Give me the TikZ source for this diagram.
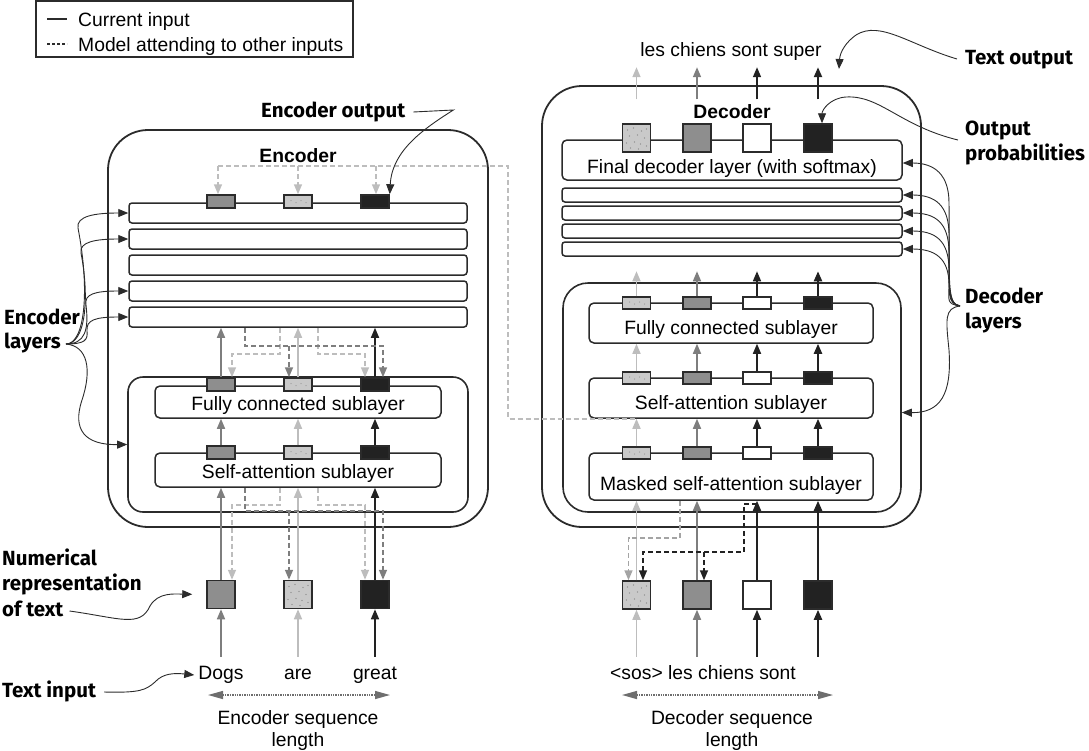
\documentclass[tikz,border=0pt]{standalone}
\usepackage{fontspec}
\setmainfont{Liberation Sans}
\newfontfamily\lblfont{Fira Sans}
\usetikzlibrary{arrows.meta,calc}

\definecolor{cline}{HTML}{2B2B2B}
\definecolor{cdark}{HTML}{8E8E8E}
\definecolor{cdarkln}{HTML}{7E7E7E}
\definecolor{clight}{HTML}{C9C9C9}
\definecolor{clightln}{HTML}{BDBDBD}
\definecolor{cmid}{HTML}{A4A4A4}
\definecolor{cblack}{HTML}{222222}
\definecolor{cdot}{HTML}{808080}
\definecolor{cseq}{HTML}{6E6E6E}

\tikzset{
  tip/.style={-{Triangle[length=10pt,width=8pt]}},
  dkar/.style={draw=cdarkln, line width=1.6pt, tip},
  ltar/.style={draw=clightln, line width=1.6pt, tip},
  mdar/.style={draw=cmid, line width=1.6pt, tip},
  bkar/.style={draw=cblack, line width=1.6pt, tip},
  bkthick/.style={draw=cblack, line width=2.2pt, tip},
  dsh/.style={dash pattern=on 5pt off 3pt},
  ltline/.style={draw=clightln, line width=1.6pt},
  cell/.style={draw=cline, line width=1.5pt, inner sep=0pt},
  bigsq/.style={cell, minimum width=28pt, minimum height=28pt},
  smrect/.style={cell, minimum width=28pt, minimum height=13pt},
  fdark/.style={fill=cdark},
  fblack/.style={fill=cblack},
  fwhite/.style={fill=white},
  flightbig/.style={fill=clight, path picture={
      \foreach \dx/\dy in {-9/8,-3/10,5/7,10/9,-7/2,1/3,8/0,-10/-5,-2/-4,4/-6,10/-8,-6/-10,2/-11}
        {\fill[cdot] ($(path picture bounding box.center)+(\dx pt,\dy pt)$) circle[radius=0.55pt];}}},
  flightsm/.style={fill=clight, path picture={
      \foreach \dx/\dy in {-7/1,-2/-1,3/1,8/-1}
        {\fill[cdot] ($(path picture bounding box.center)+(\dx pt,\dy pt)$) circle[radius=0.5pt];}}},
  layerbox/.style={cell, rounded corners=3pt},
  subbox/.style={cell, rounded corners=5pt},
  outerbox/.style={draw=cline, line width=1.8pt, inner sep=0pt, rounded corners=40pt},
  innerbox/.style={draw=cline, line width=1.6pt, inner sep=0pt},
  txt/.style={font=\fontsize{19.3}{23}\selectfont, inner sep=0pt},
  hdr/.style={font=\fontsize{19.3}{23}\selectfont\bfseries, inner sep=0pt},
  lbl/.style={font=\lblfont\bfseries\fontsize{20.5}{25}\selectfont, inner sep=0pt, anchor=base west},
  ann/.style={draw=cline, line width=0.9pt, -{Triangle[length=10pt,width=8pt]}},
  seqarrow/.style={draw=cseq, line width=1.4pt, densely dotted,
      {Triangle[length=15pt,width=8pt]}-{Triangle[length=15pt,width=8pt]}},
}

\begin{document}
\begin{tikzpicture}[x=1pt,y=-1pt]
\useasboundingbox (0,0) rectangle (1089,750);

% ---------------- legend ----------------
\node[cell, line width=1.2pt, minimum width=317pt, minimum height=56pt] (legend) at (194.5,29) {};
\coordinate (lg1a) at (47,19); \coordinate (lg1b) at (67,19);
\coordinate (lg2a) at (47,44); \coordinate (lg2b) at (67,44);
\draw[cline, line width=1.2pt] (lg1a) -- (lg1b);
\draw[cline, line width=1.2pt, dash pattern=on 3pt off 2pt] (lg2a) -- (lg2b);
\node[txt, anchor=base west] (lgt1) at (78,26) {Current input};
\node[txt, anchor=base west] (lgt2) at (78,51) {Model attending to other inputs};

% ---------------- encoder ----------------
\node[outerbox, minimum width=380pt, minimum height=397pt] (enc) at (298,328.5) {};
\node[hdr, anchor=base] (enctitle) at (298,162) {Encoder};
\foreach \k/\y in {1/213,2/239,3/265,4/291,5/317}
  \node[layerbox, minimum width=338pt, minimum height=20pt] (el\k) at (298,\y) {};
\node[innerbox, rounded corners=15pt, minimum width=340pt, minimum height=135pt] (einner) at (298,444.5) {};
\node[subbox, minimum width=286pt, minimum height=32pt] (efc) at (298,402) {};
\node[txt, anchor=base] (efctxt) at (298,410) {Fully connected sublayer};
\node[subbox, minimum width=286pt, minimum height=34pt] (esa) at (298,470) {};
\node[txt, anchor=base] (esatxt) at (298,478) {Self-attention sublayer};

\foreach \i/\x/\s/\b in {1/221/fdark/fdark, 2/298/flightsm/flightbig, 3/375/fblack/fblack}{
  \node[smrect,\s] (eo\i) at (\x,201.5) {};
  \node[smrect,\s] (ef\i) at (\x,384.5) {};
  \node[smrect,\s] (es\i) at (\x,452.5) {};
  \node[bigsq,\b] (ei\i) at (\x,594.5) {};
}
\node[txt, anchor=base, text height=14pt, text depth=4pt] (w1) at (221,679) {Dogs};
\node[txt, anchor=base, text height=14pt, text depth=4pt] (w2) at (298,679) {are};
\node[txt, anchor=base, text height=14pt, text depth=4pt] (w3) at (375,679) {great};

% current-input arrows through the encoder
\foreach \i/\st in {1/dkar,2/ltar,3/bkar}{
  \draw[\st] ([yshift=8pt]w\i.north) -- (ei\i.south);
  \draw[\st] (ei\i.north) -- (ei\i.north |- esa.south);
  \draw[\st] (es\i.north) -- (es\i.north |- efc.south);
  \draw[\st] (ef\i.north) -- (ef\i.north |- el5.south);
}

% attention to other inputs, below the self-attention sublayer
\draw[ltar,dsh] ([xshift=-18pt]ei2.north |- esa.south) -- ++(0,17) -| ([xshift=11pt]ei1.north);
\draw[ltar,dsh] ([xshift=20pt]ei2.north |- esa.south) -- ++(0,17) -| ([xshift=-10pt]ei3.north);
\draw[dkar,dsh] ([xshift=24pt]ei1.north |- esa.south) -- ++(0,23) -| ([xshift=8pt]ei3.north);
\draw[dkar,dsh] ([xshift=-9pt,yshift=-23pt]ei2.north |- esa.south) -- ([xshift=-9pt]ei2.north);

% attention to other inputs, above the fully connected sublayer
\draw[ltar,dsh] ([xshift=-18pt]ef2.north |- el5.south) -- ++(0,26) -| ([xshift=11pt]ef1.north);
\draw[ltar,dsh] ([xshift=20pt]ef2.north |- el5.south) -- ++(0,26) -| ([xshift=-10pt]ef3.north);
\draw[dkar,dsh] ([xshift=24pt]ef1.north |- el5.south) -- ++(0,18) -| ([xshift=8pt]ef3.north);
\draw[dkar,dsh] ([xshift=-9pt,yshift=-18pt]ef2.north |- el5.south) -- ([xshift=-9pt]ef2.north);

% sequence length
\coordinate (esl) at (208,695); \coordinate (esr) at (390,695);
\draw[seqarrow] (esl) -- (esr);
\node[txt, anchor=base] (eseq1) at (298,724) {Encoder sequence};
\node[txt, anchor=base] (eseq2) at (298,746) {length};

% ---------------- decoder ----------------
\node[outerbox, minimum width=379pt, minimum height=441pt] (dec) at (731.5,306.5) {};
\node[hdr, anchor=base] (dectitle) at (732,118) {Decoder};
\node[subbox, minimum width=340pt, minimum height=40pt] (dfin) at (732,160) {};
\node[txt, anchor=base] (dfintxt) at (732,173) {Final decoder layer (with softmax)};
\foreach \k/\y in {1/195,2/213,3/231,4/249}
  \node[layerbox, minimum width=340pt, minimum height=14pt] (dl\k) at (732,\y) {};
\node[innerbox, rounded corners=25pt, minimum width=338pt, minimum height=229pt] (dinner) at (732,397.5) {};
\node[subbox, minimum width=284pt, minimum height=40pt] (dfc) at (731,323) {};
\node[txt, anchor=base] (dfctxt) at (731,334) {Fully connected sublayer};
\node[subbox, minimum width=284pt, minimum height=40pt] (dsa) at (731,398) {};
\node[txt, anchor=base] (dsatxt) at (731,409) {Self-attention sublayer};
\node[subbox, minimum width=284pt, minimum height=47pt] (dmsa) at (731,476.5) {};
\node[txt, anchor=base] (dmsatxt) at (731,490) {Masked self-attention sublayer};

\foreach \i/\x/\s/\b in {1/636.5/flightsm/flightbig, 2/697/fdark/fdark, 3/757/fwhite/fwhite, 4/818/fblack/fblack}{
  \node[bigsq,\b] (do\i) at (\x,138) {};
  \node[smrect,\s, minimum height=12pt] (df\i) at (\x,303) {};
  \node[smrect,\s, minimum height=12pt] (ds\i) at (\x,378) {};
  \node[smrect,\s, minimum height=12pt] (dm\i) at (\x,453) {};
  \node[bigsq,\b] (di\i) at (\x,595) {};
}
\node[txt, anchor=base, text height=14pt, text depth=4pt] (dintxt) at (703,679) {<sos> les chiens sont};
\node[txt, anchor=base, text height=14pt, text depth=4pt] (douttxt) at (731,56) {les chiens sont super};

\foreach \i/\st in {1/ltar,2/dkar,3/bkar,4/bkthick}{
  \draw[\st] ([yshift=8pt]di\i.south |- dintxt.north) -- (di\i.south);
  \draw[\st] (di\i.north) -- (di\i.north |- dmsa.south);
  \draw[\st] (dm\i.north) -- (dm\i.north |- dsa.south);
  \draw[\st] (ds\i.north) -- (ds\i.north |- dfc.south);
  \draw[\st] (df\i.north) -- ([yshift=25pt]df\i.north);
  \draw[\st] ([yshift=24pt]do\i.north) -- ([yshift=-7pt]do\i.north |- douttxt.south);
}

% masked attention: each position looks only at earlier ones
\draw[mdar,dsh] ([xshift=-17pt]di2.north |- dmsa.south) -- ++(0,37) -| ([xshift=-8pt]di1.north);
\draw[bkar,dsh] ([yshift=-3pt]di3.north |- dmsa.south) -- ++(-13,0) -- ++(0,48) -| ([xshift=6.5pt]di1.north);
\draw[bkar,dsh] ([xshift=7pt,yshift=-51pt]di2.north |- dmsa.south) -- ([xshift=7pt]di2.north);

\coordinate (dsl) at (622,695); \coordinate (dsr) at (833,695);
\draw[seqarrow] (dsl) -- (dsr);
\node[txt, anchor=base] (dseq1) at (732,724) {Decoder sequence};
\node[txt, anchor=base] (dseq2) at (732,746) {length};

% encoder output fed to the decoder's attention sublayer
\draw[ltline,dsh] ([xshift=-3pt,yshift=28pt]eo1.north) -| ([xshift=-80pt]dsa.south west) -- ([xshift=47pt]dsa.south west);
\draw[ltar,dsh] ([xshift=-3pt,yshift=28pt]eo1.north) -- ([xshift=-3pt]eo1.north);
\draw[ltar,dsh] ([yshift=28pt]eo2.north) -- (eo2.north);
\draw[ltar,dsh] ([xshift=1pt,yshift=28pt]eo3.north) -- ([xshift=1pt]eo3.north);

% ---------------- annotations ----------------
\node[lbl] (lencout) at (261,117) {Encoder output};
\draw[ann] ([xshift=8pt,yshift=5pt]lencout.base east) -- ++(40,-2) .. controls (425,128) and (392,150) .. (eo3.north east);

\node[lbl] (lenc1) at (4,324) {Encoder};
\node[lbl] (lenc2) at (4,348) {layers};
\coordinate (etip) at (66,344);
\draw[ann] (etip) .. controls (85,344) and (90,290) .. (78,228) .. controls (76,216) and (95,213) .. (el1.west);
\draw[ann] (etip) .. controls (85,344) and (90,300) .. (81,253) .. controls (79,242) and (95,239) .. (el2.west);
\draw[ann] (etip) .. controls (85,344) and (89,330) .. (86,305) .. controls (84,294) and (95,291) .. (el4.west);
\draw[ann] (etip) .. controls (85,344) and (88,340) .. (87,331) .. controls (86,320) and (95,317) .. (el5.west);
\draw[ann] (etip) .. controls (88,346) and (92,370) .. (82,400) .. controls (72,430) and (85,445) .. (einner.west);

\node[lbl] (lnum1) at (2,565) {Numerical};
\node[lbl] (lnum2) at (2,590) {representation};
\node[lbl] (lnum3) at (2,616) {of text};
\draw[ann, shorten >=14pt] ([xshift=6pt,yshift=5pt]lnum3.base east) .. controls (120,618) and (140,628) .. (150,606) .. controls (158,592) and (175,594) .. (ei1.west);

\node[lbl] (ltxtin) at (2,697) {Text input};
\draw[ann] ([xshift=8pt,yshift=5pt]ltxtin.base east) .. controls (140,693) and (146,690) .. (155,682) .. controls (163,673) and (175,673) .. ([xshift=-4pt,yshift=-1pt]w1.west);

\node[lbl] (ltxtout) at (965,64) {Text output};
\draw[ann] ([xshift=-8pt,yshift=5pt]ltxtout.base west) .. controls (910,45) and (880,20) .. (856,35) .. controls (846,42) and (840,52) .. (839,69);

\node[lbl] (lprob1) at (965,135) {Output};
\node[lbl] (lprob2) at (965,160) {probabilities};
\coordinate (pstart) at (958,140);
\draw[ann] (pstart) .. controls (900,126) and (880,95) .. (846,97) .. controls (830,98) and (822,110) .. ([xshift=4pt]do4.north);

\node[lbl] (ldec1) at (965,303) {Decoder};
\node[lbl] (ldec2) at (965,328) {layers};
\coordinate (dtip) at (960,306);
\draw[ann] (dtip) .. controls (946,304) and (950,280) .. (949,203) .. controls (949,175) and (935,163) .. ([yshift=-3pt]dfin.east);
\draw[ann] (dtip) .. controls (946,304) and (950,280) .. (949,235) .. controls (949,205) and (935,195) .. (dl1.east);
\draw[ann] (dtip) .. controls (946,304) and (950,285) .. (949,253) .. controls (949,222) and (935,213) .. (dl2.east);
\draw[ann] (dtip) .. controls (946,304) and (950,290) .. (949,270) .. controls (949,240) and (935,231) .. (dl3.east);
\draw[ann] (dtip) .. controls (946,304) and (949,300) .. (949,285) .. controls (949,258) and (935,249) .. (dl4.east);
\draw[ann] (dtip) .. controls (944,308) and (946,320) .. (949,350) .. controls (952,395) and (940,413) .. ([yshift=-15pt]dinner.east);

\end{tikzpicture}
\end{document}
